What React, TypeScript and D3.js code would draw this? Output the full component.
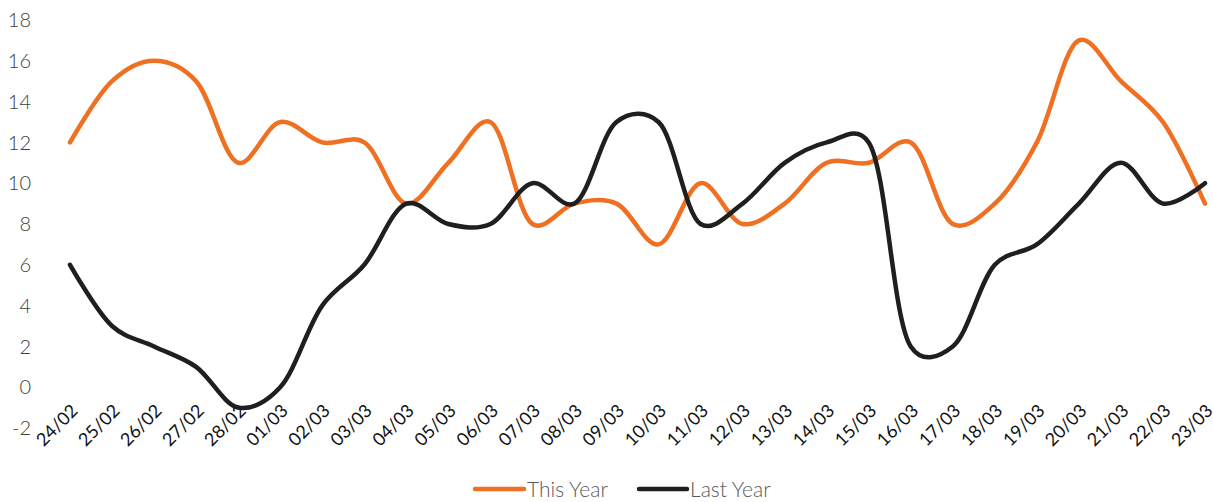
import React from "react";
import * as d3 from "d3";

const categories = ["24/02","25/02","26/02","27/02","28/02","01/03","02/03","03/03","04/03","05/03","06/03","07/03","08/03","09/03","10/03","11/03","12/03","13/03","14/03","15/03","16/03","17/03","18/03","19/03","20/03","21/03","22/03","23/03"];
const thisYear = [12,15,16,15,11,13,12,12,9,11,13,8,9,9,7,10,8,9,11,11,12,8,9,12,17,15,13,9];
const lastYear = [6,3,2,1,-1,0,4,6,9,8,8,10,9,13,13,8,9,11,12,12,2,2,6,7,9,11,9,10];
const yTicks = [-2,0,2,4,6,8,10,12,14,16,18];

const W = 1213, H = 502;
const FONT = "Lato, 'Open Sans', sans-serif";

export default function App() {
  const x = d3.scalePoint<string>().domain(categories).range([70, 1205]);
  const y = d3.scaleLinear().domain([-2, 18]).range([428, 20]);
  const line = d3.line<number>()
    .x((_, i) => x(categories[i]) as number)
    .y((d) => y(d))
    .curve(d3.curveCatmullRom.alpha(0.25));

  return (
    <svg width={W} height={H} style={{ position: "absolute", left: 0, top: 0, background: "#fff" }}>
      {yTicks.map((t) => (
        <text key={t} x={31} y={y(t)} dy="0.36em" textAnchor="end" fontFamily={FONT} fontWeight={300} fontSize={20} fill="#404040">{t}</text>
      ))}
      {categories.map((c) => (
        <text key={c} transform={`translate(${(x(c) as number)},${403}) rotate(-45)`} textAnchor="end" dy="0.7em" fontFamily={FONT} fontWeight={400} fontSize={18} fill="#111">{c}</text>
      ))}
      <path d={line(thisYear) || ""} fill="none" stroke="#F07022" strokeWidth={4.5} strokeLinecap="round" strokeLinejoin="round" />
      <path d={line(lastYear) || ""} fill="none" stroke="#1f1f1f" strokeWidth={4.5} strokeLinecap="round" strokeLinejoin="round" />
      <g fontFamily={FONT} fontWeight={300} fontSize={21} fill="#595959">
        <line x1={475} x2={524} y1={489} y2={489} stroke="#F07022" strokeWidth={4.5} strokeLinecap="round" />
        <text x={527} y={489} dy="0.36em">This Year</text>
        <line x1={639} x2={687} y1={489} y2={489} stroke="#1f1f1f" strokeWidth={4.5} strokeLinecap="round" />
        <text x={690} y={489} dy="0.36em">Last Year</text>
      </g>
    </svg>
  );
}
